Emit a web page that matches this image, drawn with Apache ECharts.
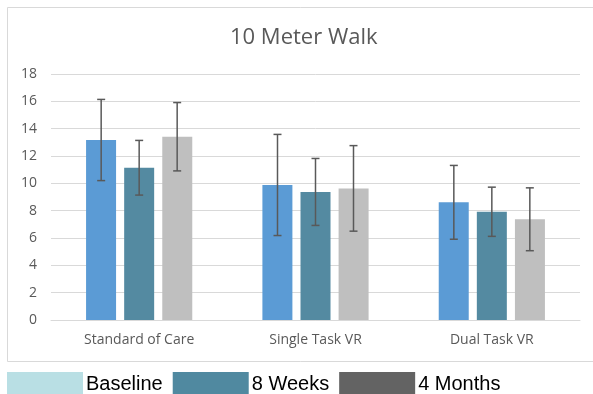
<!DOCTYPE html>
<html>
<head>
<meta charset="utf-8">
<script src="https://cdn.jsdelivr.net/npm/echarts@6/dist/echarts.min.js"></script>
<style>html,body{margin:0;padding:0;background:#fff}#c{width:593px;height:394px}</style>
</head>
<body>
<div id="c"></div>
<script>
var categories = ['Standard of Care', 'Single Task VR', 'Dual Task VR'];
var seriesNames = ['Baseline', '8 Weeks', '4 Months'];
var baseline = [13.17, 9.88, 8.61];
var weeks8 = [11.14, 9.37, 7.92];
var months4 = [13.41, 9.63, 7.37];
var baselineErr = [2.97, 3.7, 2.7];
var weeks8Err = [2.0, 2.45, 1.8];
var months4Err = [2.5, 3.13, 2.3];
var yTicks = [0, 2, 4, 6, 8, 10, 12, 14, 16, 18];

var barColors = ['#5B9BD5', '#548AA1', '#BFBFBF'];
var legendColors = ['#B9DFE4', '#5089A0', '#636363'];
var values = [baseline, weeks8, months4];
var errs = [baselineErr, weeks8Err, months4Err];

var chart = echarts.init(document.getElementById('c'));
var series = [];
values.forEach(function (v, i) {
  series.push({
    name: seriesNames[i], type: 'bar', data: v, barWidth: 30, barGap: '27%',
    itemStyle: { color: barColors[i] }, z: 2
  });
});
values.forEach(function (v, i) {
  series.push({
    type: 'custom', silent: true, z: 5,
    data: v.map(function (val, k) { return [k, val - errs[i][k], val + errs[i][k]]; }),
    encode: { x: 0, y: [1, 2] },
    renderItem: function (params, api) {
      var lo = api.coord([api.value(0), api.value(1)]);
      var hi = api.coord([api.value(0), api.value(2)]);
      var x = lo[0] + (i - 1) * 38;
      var st = { stroke: '#595959', lineWidth: 1.5 };
      return { type: 'group', children: [
        { type: 'line', shape: { x1: x, y1: lo[1], x2: x, y2: hi[1] }, style: st },
        { type: 'line', shape: { x1: x - 4, y1: lo[1], x2: x + 4, y2: lo[1] }, style: st },
        { type: 'line', shape: { x1: x - 4, y1: hi[1], x2: x + 4, y2: hi[1] }, style: st }
      ]};
    }
  });
});

chart.setOption({
  animation: false,
  backgroundColor: '#fff',
  title: {
    text: '10 Meter Walk', left: 230, top: 27, padding: 0,
    textStyle: { fontFamily: 'Open Sans', fontSize: 22, fontWeight: 'normal', color: '#595959' }
  },
  graphic: [{
    type: 'rect', shape: { x: 7.5, y: 7.5, width: 600, height: 354 },
    style: { fill: 'none', stroke: '#d9d9d9', lineWidth: 1 }, silent: true
  }],
  legend: {
    left: 7, top: 372, itemWidth: 76, itemHeight: 24, itemGap: 10, padding: 0,
    icon: 'rect', selectedMode: false,
    textStyle: { fontFamily: 'Liberation Sans', fontSize: 20, color: '#000', padding: [0, 0, 0, -2] },
    data: seriesNames.map(function (n, i) { return { name: n, itemStyle: { color: legendColors[i] } }; })
  },
  grid: { left: 51, right: 13, top: 74, bottom: 74 },
  xAxis: {
    type: 'category', data: categories,
    axisLine: { lineStyle: { color: '#d9d9d9' } }, axisTick: { show: false },
    axisLabel: { fontFamily: 'Open Sans', fontSize: 14, color: '#595959', margin: 13 }
  },
  yAxis: {
    type: 'value', min: yTicks[0], max: yTicks[yTicks.length - 1], interval: 2,
    axisLine: { show: false }, axisTick: { show: false },
    splitLine: { lineStyle: { color: '#d9d9d9', width: 1 } },
    axisLabel: { fontFamily: 'Open Sans', fontSize: 14, color: '#595959', margin: 14 }
  },
  series: series
});
</script>
</body>
</html>
